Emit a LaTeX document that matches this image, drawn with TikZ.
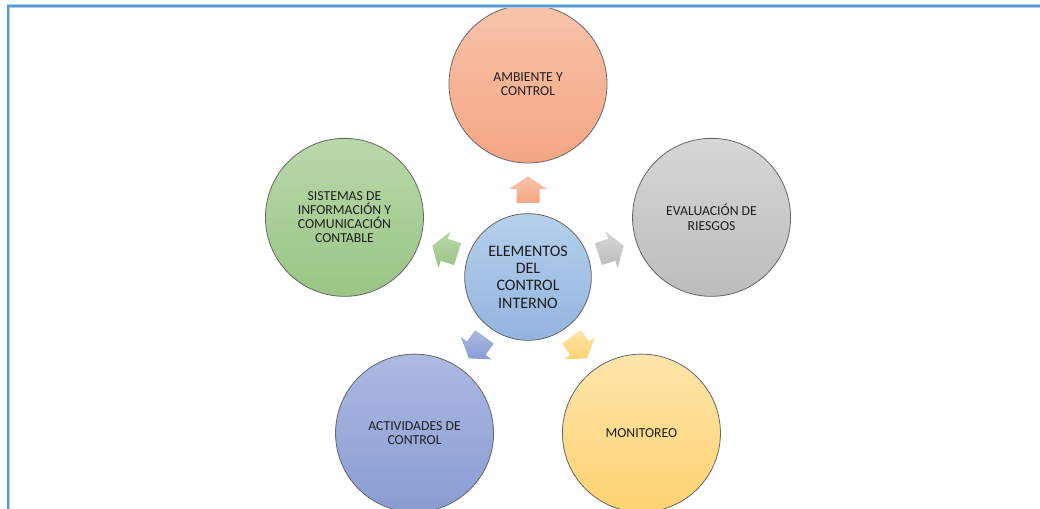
\documentclass[tikz,border=0pt]{standalone}
\usepackage{fontspec}
\setmainfont{Carlito}
\usetikzlibrary{calc}

% fill colours (light top, darker bottom)
\definecolor{orgA}{HTML}{F8C3AA}\definecolor{orgB}{HTML}{F4A683}
\definecolor{gryA}{HTML}{D6D6D6}\definecolor{gryB}{HTML}{BCBCBC}
\definecolor{grnA}{HTML}{B9D8A9}\definecolor{grnB}{HTML}{9AC585}
\definecolor{prpA}{HTML}{ACB9E1}\definecolor{prpB}{HTML}{899CD3}
\definecolor{ylwA}{HTML}{FEE5AA}\definecolor{ylwB}{HTML}{FFD271}
\definecolor{ctrA}{HTML}{B7D0EC}\definecolor{ctrB}{HTML}{91B4DF}
\definecolor{frameblue}{HTML}{5B9BD5}
\definecolor{framelight}{HTML}{A9CBEA}
\definecolor{txt}{HTML}{1E1E1E}

\tikzset{
  ball/.style={circle, draw=black!60, line width=0.6pt, minimum size=118.5pt,
    inner sep=0pt, align=center, text=txt,
    font=\fontsize{10.3}{10.6}\selectfont},
  hub/.style={ball, minimum size=95pt, font=\fontsize{12}{13}\selectfont},
}

% block arrow leaving the hub at angle #1, shaded from #2 (top) to #3 (bottom)
\newcommand\blockarrow[4]{%
  \shade[top color=#2, bottom color=#3]
    ($(C)+(#1:74)+(#1+90:11.5)$) -- ($(C)+(#1:88)+(#1+90:11.5)$)
    -- ($(C)+(#1:88)+(#1+90:19)$) -- ($(C)+(#1:100.6)$) coordinate (#4)
    -- ($(C)+(#1:88)+(#1-90:19)$) -- ($(C)+(#1:88)+(#1-90:11.5)$)
    -- ($(C)+(#1:74)+(#1-90:11.5)$) -- cycle;}

\begin{document}
\begin{tikzpicture}[x=0.75pt, y=0.75pt]
  \useasboundingbox (0,0) rectangle (1040,509);
  \clip (0,0) rectangle (1040,509);
  \fill[white] (0,0) rectangle (1040,509);

  \coordinate (C) at (528,232);

  % central element
  \node[hub, top color=ctrA, bottom color=ctrB] (centro) at (C)
    {ELEMENTOS\\DEL\\CONTROL\\INTERNO};

  % outer elements, on a pentagon around the hub
  \node[ball, top color=orgA, bottom color=orgB] (ambiente) at ($(C)+(90:193)$)
    {AMBIENTE Y\\CONTROL};
  \node[ball, top color=gryA, bottom color=gryB] (riesgos) at ($(C)+(18:193)$)
    {EVALUACIÓN DE\\RIESGOS};
  \node[ball, top color=grnA, bottom color=grnB] (sistemas) at ($(C)+(162:193)$)
    {SISTEMAS DE\\INFORMACIÓN Y\\COMUNICACIÓN\\CONTABLE};
  \node[ball, top color=prpA, bottom color=prpB] (actividades) at ($(C)+(234:193)$)
    {ACTIVIDADES DE\\CONTROL};
  \node[ball, top color=ylwA, bottom color=ylwB] (monitoreo) at ($(C)+(306:193)$)
    {MONITOREO};

  % arrows pointing from the hub to each element
  \blockarrow{90}{orgA}{orgB}{tipA}
  \blockarrow{18}{gryA}{gryB}{tipR}
  \blockarrow{162}{grnA}{grnB}{tipS}
  \blockarrow{234}{prpA}{prpB}{tipC}
  \blockarrow{306}{ylwA}{ylwB}{tipM}

  % page frame (left and top edges)
  \coordinate (fl) at (8.3,0);
  \coordinate (fc) at (8.3,503);
  \coordinate (fr) at (1040,503);
  \draw[framelight, line width=2.6pt] (fl) -- (fc) -- (fr);
  \draw[frameblue, line width=1.5pt] (fl) -- (fc) -- (fr);
\end{tikzpicture}
\end{document}
